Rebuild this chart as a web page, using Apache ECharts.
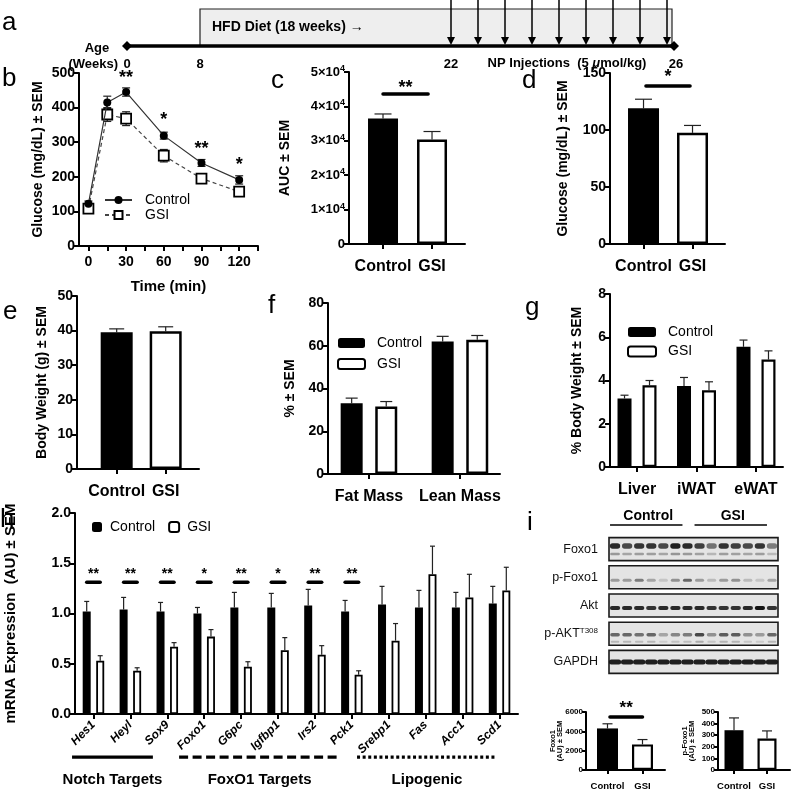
<!DOCTYPE html>
<html><head><meta charset="utf-8">
<script src="https://cdn.jsdelivr.net/npm/echarts@6/dist/echarts.min.js"></script>
<style>html,body{margin:0;padding:0;background:#fff}#c{width:800px;height:796px}</style>
</head><body><div id="c"></div><script>
const FONT = "'Liberation Sans', Arial, Helvetica, sans-serif";
const NARROW = "'Liberation Sans Narrow', 'Liberation Sans', Arial, sans-serif";

// ---------------- data ----------------
// a: timeline (weeks)
const timelineWeeks = ['0', '8', '22', '26'];
const injectionCount = 9;
// b: OGTT
const ogttTime = [0, 15, 30, 60, 90, 120];
const ogttControl = [122, 415, 445, 319, 240, 191];
const ogttControlSem = [8, 18, 12, 10, 10, 12];
const ogttGsi = [108, 380, 368, 261, 195, 157];
const ogttGsiSem = [10, 20, 20, 18, 8, 8];
const ogttStars = ['', '', '**', '*', '**', '*'];
const ogttXTicks = [0, 15, 30, 45, 60, 75, 90, 105, 120, 135];
const ogttXLabels = [0, 30, 60, 90, 120];
// c, d, e
const groups = ['Control', 'GSI'];
const aucMean = [36500, 30400];
const aucSem = [1300, 2300];
const fastGlucMean = [119, 97.5];
const fastGlucSem = [8, 6.5];
const bodyWeightMean = [39.5, 39.8];
const bodyWeightSem = [1.0, 1.3];
// f
const compCats = ['Fat Mass', 'Lean Mass'];
const compControl = [33.1, 62.0];
const compControlSem = [2.4, 2.4];
const compGsi = [31.6, 62.8];
const compGsiSem = [2.3, 2.0];
// g
const organCats = ['Liver', 'iWAT', 'eWAT'];
const organControl = [3.17, 3.74, 5.56];
const organControlSem = [0.15, 0.40, 0.31];
const organGsi = [3.78, 3.55, 4.97];
const organGsiSem = [0.22, 0.39, 0.40];
// h
const genes = ['Hes1', 'Heyl', 'Sox9', 'Foxo1', 'G6pc', 'Igfbp1', 'Irs2', 'Pck1', 'Srebp1', 'Fas', 'Acc1', 'Scd1'];
const geneControl = [1.02, 1.04, 1.02, 1.00, 1.06, 1.06, 1.08, 1.02, 1.09, 1.06, 1.06, 1.10];
const geneControlSem = [0.10, 0.12, 0.09, 0.06, 0.15, 0.14, 0.16, 0.11, 0.18, 0.17, 0.15, 0.17];
const geneGsi = [0.53, 0.43, 0.67, 0.77, 0.47, 0.635, 0.59, 0.39, 0.73, 1.39, 1.16, 1.23];
const geneGsiSem = [0.05, 0.03, 0.04, 0.07, 0.05, 0.125, 0.09, 0.04, 0.17, 0.28, 0.23, 0.23];
const geneStars = ['**', '**', '**', '*', '**', '*', '**', '**', '', '', '', ''];
const geneGroupNames = ['Notch Targets', 'FoxO1 Targets', 'Lipogenic'];
// i: western blot band intensities (14 lanes: 7 Control, 7 GSI)
const blotRows = ['Foxo1', 'p-Foxo1', 'Akt', 'p-AKT', 'GAPDH'];
const blotFoxo1 = [0.9, 0.75, 0.85, 0.85, 0.75, 0.95, 0.9, 0.8, 0.55, 0.85, 0.8, 0.75, 0.85, 0.5];
const blotPFoxo1 = [0.35, 0.35, 0.5, 0.3, 0.15, 0.4, 0.6, 0.35, 0.2, 0.35, 0.4, 0.2, 0.15, 0.3];
const blotAkt = [0.9, 0.9, 0.9, 0.85, 0.9, 0.9, 0.9, 0.9, 0.85, 0.85, 0.85, 0.9, 1.0, 0.85];
const blotPAkt = [0.6, 0.6, 0.55, 0.6, 0.3, 0.45, 0.5, 0.75, 0.4, 0.65, 0.65, 0.4, 0.35, 0.6];
const blotGapdh = [0.95, 0.95, 0.95, 0.95, 0.95, 0.95, 0.95, 0.95, 0.95, 0.95, 0.95, 0.95, 0.95, 0.95];
const foxo1Quant = [4300, 2650];
const foxo1QuantSem = [480, 500];
const pFoxo1Quant = [343, 271];
const pFoxo1QuantSem = [106, 66];

// ---------------- builders ----------------
const grids = [], xAxes = [], yAxes = [], series = [], legends = [], graphic = [];
const BLACK = { color: '#000' };
const WHITE = bw => ({ color: '#fff', borderColor: '#000', borderWidth: bw });

function axisBase(fs) {
  return {
    nameMoveOverlap: false,
    axisLine: { show: true, onZero: false, lineStyle: { color: '#000', width: 2 } },
    axisTick: { show: true, length: 5, lineStyle: { color: '#000', width: 2 } },
    splitLine: { show: false },
    axisLabel: { color: '#000', fontFamily: FONT, fontWeight: 'bold', fontSize: fs }
  };
}
function panel(o) {
  const gi = grids.length;
  grids.push({ left: o.l, top: o.t, width: o.r - o.l, height: o.b - o.t, show: false, containLabel: false, outerBoundsMode: 'none' });
  const xa = axisBase(o.xfs || 16);
  Object.assign(xa, { gridIndex: gi, type: 'value', min: o.xMin, max: o.xMax });
  xa.axisTick.customValues = o.xTicks;
  xa.axisTick.length = o.tickLen || 5;
  xa.axisLabel.customValues = o.xLabels || o.xTicks;
  xa.axisLabel.formatter = o.xFormatter || (v => String(v));
  xa.axisLabel.margin = o.xMargin != null ? o.xMargin : 15;
  if (o.xRotate) { xa.axisLabel.rotate = o.xRotate; xa.axisLabel.fontStyle = 'italic'; }
  if (o.xName) {
    xa.name = o.xName; xa.nameLocation = 'middle'; xa.nameGap = o.xNameGap;
    xa.nameTextStyle = { fontFamily: FONT, fontWeight: 'bold', fontSize: 15, color: '#000' };
  }
  xAxes.push(xa);
  const ya = axisBase(o.yfs || 14);
  Object.assign(ya, {
    gridIndex: gi, type: 'value', min: 0, max: o.yMax, interval: o.yInterval,
    name: o.yName, nameLocation: 'middle', nameRotate: 90, nameGap: o.yNameGap,
    nameTextStyle: { fontFamily: FONT, fontWeight: 'bold', fontSize: o.yNameSize || 14, color: '#000', lineHeight: o.yNameLH }
  });
  ya.axisTick.length = o.tickLen || 5;
  ya.axisLabel.margin = o.yMargin || 4;
  ya.axisLabel.formatter = o.yFormatter || (v => String(v));
  if (o.yRich) ya.axisLabel.rich = o.yRich;
  yAxes.push(ya);
  return gi;
}
function bars(gi, name, xs, vals, width, style) {
  series.push({
    type: 'bar', name, xAxisIndex: gi, yAxisIndex: gi, barWidth: width, barGap: '-100%',
    data: xs.map((x, i) => [x, vals[i]]), itemStyle: style, silent: true, z: 3
  });
}
function errBars(gi, xs, means, sems, cap, both) {
  series.push({
    type: 'custom', xAxisIndex: gi, yAxisIndex: gi, silent: true, z: 2,
    data: xs.map((x, i) => [x, means[i], sems[i]]),
    renderItem: (p, api) => {
      const x = api.value(0), m = api.value(1), s = api.value(2);
      const top = api.coord([x, m + s]);
      const bot = api.coord([x, both ? m - s : m]);
      const st = { stroke: '#222', lineWidth: 1.2 };
      const ch = [
        { type: 'line', shape: { x1: top[0], y1: top[1], x2: bot[0], y2: bot[1] }, style: st },
        { type: 'line', shape: { x1: top[0] - cap / 2, y1: top[1], x2: top[0] + cap / 2, y2: top[1] }, style: st }
      ];
      if (both) ch.push({ type: 'line', shape: { x1: bot[0] - cap / 2, y1: bot[1], x2: bot[0] + cap / 2, y2: bot[1] }, style: st });
      return { type: 'group', children: ch };
    }
  });
}
// items: [x1, x2, yLine, yText, label]
function sig(gi, items, lw, fs) {
  series.push({
    type: 'custom', xAxisIndex: gi, yAxisIndex: gi, silent: true, z: 6, clip: false,
    data: items.map(it => [it[0], it[2], it[1], it[3]]),
    renderItem: (p, api) => {
      const it = items[p.dataIndex];
      const a = api.coord([it[0], it[2]]), b = api.coord([it[1], it[2]]);
      const t = api.coord([(it[0] + it[1]) / 2, it[3]]);
      const ch = [];
      if (lw && it[1] !== it[0]) ch.push({ type: 'line', shape: { x1: a[0], y1: a[1], x2: b[0], y2: b[1] }, style: { stroke: '#000', lineWidth: lw, lineCap: 'round' } });
      ch.push({ type: 'text', style: { text: it[4], x: t[0], y: t[1] + fs * 0.2, font: `bold ${fs}px ${FONT}`, fill: '#000', align: 'center', verticalAlign: 'middle', textAlign: 'center', textVerticalAlign: 'middle' } });
      return { type: 'group', children: ch };
    }
  });
}
function legend(o) {
  legends.push(Object.assign({
    orient: 'vertical', selectedMode: false, icon: 'roundRect', itemGap: 4, padding: 0,
    formatter: n => '{t|' + n.split('#')[0] + '}',
    textStyle: { fontFamily: FONT, fontSize: 14, color: '#000', rich: { t: { fontFamily: FONT, fontSize: 14, lineHeight: 14, color: '#000', padding: [0, 0, 0, o.pad || 7] } } }
  }, o));
}
const catFmt = arr => v => arr[Math.round(v)] || '';
const idx = arr => arr.map((_, i) => i);

// ---------------- b: OGTT ----------------
const gB = panel({ l: 79, r: 258, t: 73, b: 246, xMin: -7.5, xMax: 135, xTicks: ogttXTicks, xLabels: ogttXLabels,
  xfs: 14, xMargin: 9, yMax: 500, yInterval: 100, yName: 'Glucose (mg/dL) ± SEM', yNameGap: 34,
  xName: 'Time (min)', xNameGap: 33 });
errBars(gB, ogttTime, ogttControl, ogttControlSem, 8, true);
errBars(gB, ogttTime, ogttGsi, ogttGsiSem, 8, true);
series.push({ type: 'line', name: 'Control#b', xAxisIndex: gB, yAxisIndex: gB, silent: true, z: 4,
  data: ogttTime.map((t, i) => [t, ogttControl[i]]), symbol: 'circle', symbolSize: 8,
  lineStyle: { color: '#333', width: 1.2 }, itemStyle: { color: '#000' } });
series.push({ type: 'line', name: 'GSI#b', xAxisIndex: gB, yAxisIndex: gB, silent: true, z: 3,
  data: ogttTime.map((t, i) => [t, ogttGsi[i]]), symbol: 'rect', symbolSize: 10,
  lineStyle: { color: '#444', width: 1.2, type: [4, 3] }, itemStyle: { color: '#fff', borderColor: '#000', borderWidth: 1.8 } });
const ogttStarLevel = { 30: 496, 60: 374, 90: 290, 120: 243 };
sig(gB, ogttTime.map((t, i) => [t, t, 0, ogttStarLevel[t] || 0, ogttStars[i]]).filter(d => d[4]), 0, 18);
legend({ left: 104, top: 193, itemWidth: 27, itemHeight: 10, itemGap: 1, pad: 8, icon: undefined, data: ['Control#b', 'GSI#b'] });

// ---------------- c: AUC ----------------
const gC = panel({ l: 349, r: 465, t: 72, b: 244, xMin: -0.694, xMax: 1.673, xTicks: idx(groups), xFormatter: catFmt(groups),
  yMax: 50000, yInterval: 10000, yfs: 13, yName: 'AUC ± SEM', yNameGap: 57,
  yFormatter: v => v === 0 ? '0' : (v / 10000) + '×10{s|4}',
  yRich: { s: { fontFamily: FONT, fontWeight: 'bold', fontSize: 9, color: '#000', padding: [0, 0, 7, 0] } } });
bars(gC, 'Control#c', [0], [aucMean[0]], 30, BLACK);
bars(gC, 'GSI#c', [1], [aucMean[1]], 30, WHITE(2.5));
errBars(gC, [0, 1], aucMean, aucSem, 17, false);
sig(gC, [[0, 0.92, 43600, 46400, '**']], 3.5, 18);

// ---------------- d: fasting glucose ----------------
const gD = panel({ l: 610, r: 725, t: 73, b: 244, xMin: -0.684, xMax: 1.663, xTicks: idx(groups), xFormatter: catFmt(groups),
  yMax: 150, yInterval: 50, yName: 'Glucose (mg/dL) ± SEM', yNameGap: 40 });
bars(gD, 'Control#d', [0], [fastGlucMean[0]], 31, BLACK);
bars(gD, 'GSI#d', [1], [fastGlucMean[1]], 31, WHITE(2.5));
errBars(gD, [0, 1], fastGlucMean, fastGlucSem, 17, false);
sig(gD, [[0.05, 0.95, 138.6, 150, '*']], 3.5, 18);

// ---------------- e: body weight ----------------
const gE = panel({ l: 77, r: 199, t: 296, b: 469, xMin: -0.81, xMax: 1.68, xTicks: idx(groups), xFormatter: catFmt(groups),
  yMax: 50, yInterval: 10, yName: 'Body Weight (g) ± SEM', yNameGap: 28 });
bars(gE, 'Control#e', [0], [bodyWeightMean[0]], 32, BLACK);
bars(gE, 'GSI#e', [1], [bodyWeightMean[1]], 32, WHITE(2.5));
errBars(gE, [0, 1], bodyWeightMean, bodyWeightSem, 15, false);

// ---------------- f: body composition ----------------
const gF = panel({ l: 328, r: 500, t: 303, b: 474, xMin: -0.45, xMax: 1.44, xTicks: idx(compCats), xFormatter: catFmt(compCats),
  yMax: 80, yInterval: 20, yName: '% ± SEM', yNameGap: 31 });
const fOff = 0.19;
bars(gF, 'Control#f', idx(compCats).map(i => i - fOff), compControl, 22, BLACK);
bars(gF, 'GSI#f', idx(compCats).map(i => i + fOff), compGsi, 22, WHITE(2.5));
errBars(gF, idx(compCats).map(i => i - fOff), compControl, compControlSem, 12, false);
errBars(gF, idx(compCats).map(i => i + fOff), compGsi, compGsiSem, 12, false);
legend({ left: 337, top: 336, itemWidth: 27, itemHeight: 10, itemGap: 7, pad: 7, data: ['Control#f', 'GSI#f'] });

// ---------------- g: organ weights ----------------
const gG = panel({ l: 610, r: 783, t: 294, b: 467, xMin: -0.454, xMax: 2.454, xTicks: idx(organCats), xFormatter: catFmt(organCats),
  yMax: 8, yInterval: 2, yName: '% Body Weight ± SEM', yNameGap: 26 });
const gOff = 0.21;
bars(gG, 'Control#g', idx(organCats).map(i => i - gOff), organControl, 14, BLACK);
bars(gG, 'GSI#g', idx(organCats).map(i => i + gOff), organGsi, 14, WHITE(2.2));
errBars(gG, idx(organCats).map(i => i - gOff), organControl, organControlSem, 8, false);
errBars(gG, idx(organCats).map(i => i + gOff), organGsi, organGsiSem, 8, false);
legend({ left: 627, top: 325, itemWidth: 28, itemHeight: 10, itemGap: 5.5, pad: 7, data: ['Control#g', 'GSI#g'] });

// ---------------- h: mRNA expression ----------------
const gH = panel({ l: 75, r: 518, t: 513, b: 714, xMin: -0.5, xMax: 11.5, xTicks: idx(genes), xFormatter: catFmt(genes),
  xfs: 12, xRotate: 45, xMargin: 9, yMax: 2, yInterval: 0.5, yFormatter: v => v.toFixed(1),
  yName: 'mRNA Expression  (AU) ± SEM', yNameGap: 57, yNameSize: 15 });
const hOff = 0.183;
bars(gH, 'Control#h', idx(genes).map(i => i - hOff), geneControl, 8, BLACK);
bars(gH, 'GSI#h', idx(genes).map(i => i + hOff), geneGsi, 8, WHITE(1.8));
errBars(gH, idx(genes).map(i => i - hOff), geneControl, geneControlSem, 5, false);
errBars(gH, idx(genes).map(i => i + hOff), geneGsi, geneGsiSem, 5, false);
sig(gH, genes.map((g, i) => [i - hOff, i + hOff, 1.31, 1.42, geneStars[i]]).filter(d => d[4]), 3.5, 14);
legend({ orient: 'horizontal', left: 92, top: 520, itemWidth: 10, itemHeight: 10, itemGap: 13, pad: 3, data: ['Control#h', 'GSI#h'] });
// gene group brackets below the axis (axis units)
const hGroupFrom = [-0.58, 2.32, 7.14], hGroupTo = [1.61, 6.68, 10.93];
const hGroupDash = [null, [9, 4.5], [3, 2.6]];
series.push({
  type: 'custom', xAxisIndex: gH, yAxisIndex: gH, silent: true, clip: false, z: 6,
  data: geneGroupNames.map((n, i) => [hGroupFrom[i], -0.43, hGroupTo[i]]),
  renderItem: (p, api) => {
    const i = p.dataIndex;
    const a = api.coord([hGroupFrom[i], -0.43]), b = api.coord([hGroupTo[i], -0.43]);
    const t = api.coord([(hGroupFrom[i] + hGroupTo[i]) / 2, -0.66]);
    return { type: 'group', children: [
      { type: 'line', shape: { x1: a[0], y1: a[1], x2: b[0], y2: b[1] }, style: { stroke: '#000', lineWidth: 3.2, lineDash: hGroupDash[i] } },
      { type: 'text', style: { text: geneGroupNames[i], x: t[0], y: t[1], font: `bold 15px ${FONT}`, fill: '#000', align: 'center', verticalAlign: 'middle', textAlign: 'center', textVerticalAlign: 'middle' } }
    ] };
  }
});

// ---------------- i: western blot ----------------
const gBlot = grids.length;
grids.push({ left: 609, top: 535, width: 169, height: 141, show: false, containLabel: false, outerBoundsMode: 'none' });
xAxes.push({ gridIndex: gBlot, type: 'category', data: blotFoxo1.map((_, i) => 'L' + (i + 1)), show: false });
yAxes.push({ gridIndex: gBlot, type: 'category', data: blotRows, inverse: true,
  axisLine: { show: false }, axisTick: { show: false }, splitLine: { show: false },
  axisLabel: { margin: 11, color: '#111', fontFamily: FONT, fontSize: 12.5,
    formatter: n => n === 'p-AKT' ? 'p-AKT{s|T308}' : n,
    rich: { s: { fontFamily: FONT, fontSize: 8, color: '#111', padding: [0, 0, 6, 0] } } } });
series.push({
  type: 'custom', xAxisIndex: gBlot, yAxisIndex: gBlot, silent: true, z: 1,
  data: blotRows.map((r, i) => [0, i]),
  renderItem: (p, api) => {
    const c = api.coord([0, api.value(1)]);
    const cs = p.coordSys;
    return { type: 'rect', shape: { x: cs.x, y: c[1] - 11.5, width: cs.width, height: 23 }, style: { fill: '#e4e4e4', stroke: '#1a1a1a', lineWidth: 1.6 } };
  }
});
const blotAll = [blotFoxo1, blotPFoxo1, blotAkt, blotPAkt, blotGapdh];
series.push({
  type: 'custom', xAxisIndex: gBlot, yAxisIndex: gBlot, silent: true, z: 2,
  data: blotAll.flatMap((row, r) => row.map((v, l) => [l, r, v])),
  renderItem: (p, api) => {
    const l = api.value(0), r = api.value(1), v = api.value(2);
    const c = api.coord([l, r]);
    const w = api.size([1, 0])[0];
    const band = (dy, h, a, ww) => ({ type: 'rect', shape: { x: c[0] - ww / 2, y: c[1] + dy - h / 2, width: ww, height: h, r: h / 2 }, style: { fill: `rgba(20,20,20,${a})` } });
    const ch = [];
    if (r === 0) { ch.push(band(-3, 5.5, v, w * 0.85)); ch.push(band(5, 2.5, v * 0.4, w * 0.8)); }
    else if (r === 1) { ch.push(band(3, 3, v, w * 0.75)); }
    else if (r === 2) { ch.push(band(2.5, 4, v, w * 0.85)); }
    else if (r === 3) { ch.push(band(1, 3.5, v, w * 0.8)); ch.push(band(8, 2, v * 0.35, w * 0.7)); }
    else { ch.push(band(0, 5, v, w * 1.02)); }
    return { type: 'group', children: ch };
  }
});
const blotGroupLanes = [[0, 6], [7, 13]];
series.push({
  type: 'custom', xAxisIndex: gBlot, yAxisIndex: gBlot, silent: true, clip: false, z: 3,
  data: blotGroupLanes.map(g => [g[0], 0, g[1]]),
  renderItem: (p, api) => {
    const g = blotGroupLanes[p.dataIndex];
    const a = api.coord([g[0], 0]), b = api.coord([g[1], 0]);
    const y = p.coordSys.y;
    return { type: 'group', children: [
      { type: 'line', shape: { x1: a[0] - 5, y1: y - 10, x2: b[0] - 5, y2: y - 10 }, style: { stroke: '#000', lineWidth: 1.3 } },
      { type: 'text', style: { text: groups[p.dataIndex], x: (a[0] + b[0]) / 2 - 3, y: y - 19, font: `bold 14px ${FONT}`, fill: '#000', align: 'center', verticalAlign: 'middle', textAlign: 'center', textVerticalAlign: 'middle' } }
    ] };
  }
});

// ---------------- i: quantification ----------------
const gI1 = panel({ l: 586, r: 665, t: 712, b: 770, xMin: -0.614, xMax: 1.643, xTicks: idx(groups), xFormatter: catFmt(groups),
  xfs: 9.5, xMargin: 11, yfs: 8, yMargin: 3, tickLen: 4, yMax: 6000, yInterval: 2000, yName: 'Foxo1\n(AU) ± SEM', yNameSize: 7.5, yNameLH: 7.5, yNameGap: 22 });
bars(gI1, 'Control#i1', [0], [foxo1Quant[0]], 21, BLACK);
bars(gI1, 'GSI#i1', [1], [foxo1Quant[1]], 21, WHITE(2.2));
errBars(gI1, [0, 1], foxo1Quant, foxo1QuantSem, 10, false);
sig(gI1, [[0.07, 1.0, 5480, 6720, '**']], 3.5, 17);
const gI2 = panel({ l: 718, r: 790, t: 712, b: 770, xMin: -0.485, xMax: 1.697, xTicks: idx(groups), xFormatter: catFmt(groups),
  xfs: 9.5, xMargin: 11, yfs: 8, yMargin: 3, tickLen: 4, yMax: 500, yInterval: 100, yName: 'p-Foxo1\n(AU) ± SEM', yNameSize: 7.5, yNameLH: 7.5, yNameGap: 22 });
bars(gI2, 'Control#i2', [0], [pFoxo1Quant[0]], 19, BLACK);
bars(gI2, 'GSI#i2', [1], [pFoxo1Quant[1]], 19, WHITE(2.2));
errBars(gI2, [0, 1], pFoxo1Quant, pFoxo1QuantSem, 10, false);

// ---------------- a: timeline schematic + panel letters ----------------
const tl = { x0: 127, x1: 674, y: 46, weekX: [127, 200, 451, 676], boxX0: 200, boxX1: 672, boxTop: 9, arrowX0: 451, arrowStep: 27 };
graphic.push({ type: 'rect', shape: { x: tl.boxX0, y: tl.boxTop, width: tl.boxX1 - tl.boxX0, height: tl.y - tl.boxTop }, style: { fill: '#eeeeee', stroke: '#222', lineWidth: 1.2 } });
graphic.push({ type: 'line', shape: { x1: tl.x0, y1: tl.y, x2: tl.x1, y2: tl.y }, style: { stroke: '#000', lineWidth: 3.5 } });
[tl.x0, tl.x1].forEach(x => graphic.push({ type: 'polygon', shape: { points: [[x - 5, tl.y], [x, tl.y - 5], [x + 5, tl.y], [x, tl.y + 5]] }, style: { fill: '#000' } }));
for (let k = 0; k < injectionCount; k++) {
  const x = tl.arrowX0 + k * tl.arrowStep;
  graphic.push({ type: 'line', shape: { x1: x, y1: 0, x2: x, y2: tl.y - 8 }, style: { stroke: '#000', lineWidth: 1.5 } });
  graphic.push({ type: 'polygon', shape: { points: [[x - 4, tl.y - 9], [x + 4, tl.y - 9], [x, tl.y - 1]] }, style: { fill: '#000' } });
}
const tlFont = `bold 13px ${NARROW}`;
const gtext = (text, x, y, font, align, extra) => graphic.push({ type: 'text', style: Object.assign({ text, x, y, font, fill: '#000', align: align || 'center', verticalAlign: 'middle', textAlign: align || 'center', textVerticalAlign: 'middle' }, extra || {}) });
gtext('HFD Diet (18 weeks) →', 212, 27, `bold 14px ${NARROW}`, 'left');
gtext('Age', 97, 48, tlFont);
gtext('(Weeks)', 118, 64, tlFont, 'right');
timelineWeeks.forEach((w, i) => gtext(w, tl.weekX[i], 64, tlFont));
gtext('NP Injections  (5 {i|μ}mol/kg)', 567, 63, tlFont, 'center', { rich: { i: { fontStyle: 'italic', fontWeight: 'bold', fontFamily: NARROW, fontSize: 13 } } });
const letters = [['a', 2, 23], ['b', 2, 79], ['c', 271, 81], ['d', 522, 81], ['e', 3, 312], ['f', 268, 306], ['g', 525, 308], ['h', 0, 520], ['i', 527, 523]];
letters.forEach(l => gtext(l[0], l[1], l[2], `26px ${FONT}`, 'left'));

const chart = echarts.init(document.getElementById('c'), null, { renderer: 'canvas' });
chart.setOption({
  animation: false, backgroundColor: '#fff', textStyle: { fontFamily: FONT },
  grid: grids, xAxis: xAxes, yAxis: yAxes, series, legend: legends, graphic
});
</script></body></html>
